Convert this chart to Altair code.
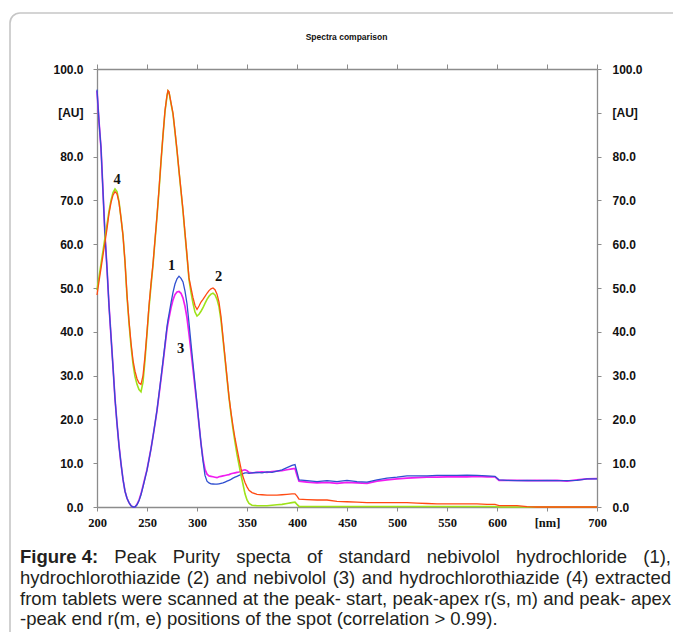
import altair as alt
import pandas as pd

# ---------------- data ----------------
wavelength = [200, 202, 204, 206, 208, 210, 212, 214, 216, 218, 220, 222, 224, 226, 228, 230,
              232, 234, 236, 238, 240, 242, 244, 246, 248, 250, 252, 254, 256, 258, 260, 262,
              264, 266, 268, 270, 271, 272, 274, 276, 278, 280, 282, 284, 286, 288, 290, 292,
              294, 296, 298, 300, 302, 304, 306, 308, 310, 312, 314, 316, 318, 320, 322, 324,
              326, 328, 330, 332, 334, 336, 338, 340, 342, 344, 346, 348, 350, 352, 355, 360,
              365, 370, 375, 380, 385, 390, 395, 398, 400, 402, 410, 420, 430, 440, 450, 460,
              470, 480, 490, 500, 510, 520, 530, 540, 550, 560, 570, 580, 590, 598, 602, 610,
              620, 630, 640, 650, 660, 670, 680, 690, 700]

# (1) standard nebivolol hydrochloride - blue
neb_std = [95.3, 88.0, 82.0, 72.0, 62.0, 54.5, 46.0, 39.0, 32.0, 24.7, 19.1, 14.0, 9.9, 6.3, 3.6, 2.0,
           1.0, 0.3, 0.0, 0.0, 0.5, 1.4, 2.8, 4.6, 6.5, 8.4, 10.8, 13.3, 16.1, 19.1, 22.1, 25.8,
           29.5, 33.3, 37.2, 41.2, 42.7, 44.0, 46.6, 49.0, 50.9, 52.1, 52.7, 52.2, 51.4, 49.3, 46.4, 42.0,
           37.3, 32.7, 28.2, 23.7, 19.0, 14.5, 10.5, 7.2, 5.9, 5.5, 5.3, 5.25, 5.2, 5.2, 5.3, 5.4,
           5.5, 5.7, 5.9, 6.1, 6.3, 6.6, 6.8, 7.0, 7.2, 7.4, 7.6, 7.8, 7.8, 7.7, 7.8, 7.9,
           7.8, 8.0, 7.9, 8.2, 8.5, 9.0, 9.5, 9.7, 8.0, 6.2, 6.0, 5.8, 6.0, 5.8, 6.1, 5.8,
           5.7, 6.2, 6.6, 6.8, 7.1, 7.1, 7.1, 7.2, 7.2, 7.2, 7.3, 7.2, 7.1, 7.0, 6.2, 6.1,
           6.0, 6.1, 6.0, 6.1, 6.0, 6.0, 6.1, 6.4, 6.4]

# (3) nebivolol from tablets - magenta
neb_tab = [95.0, 88.0, 82.0, 72.0, 62.0, 54.5, 46.0, 39.0, 32.0, 24.7, 19.1, 14.0, 9.9, 6.3, 3.6, 2.0,
           1.0, 0.3, 0.0, 0.0, 0.6, 1.6, 3.0, 4.8, 6.7, 8.5, 10.9, 13.3, 16.1, 19.0, 22.0, 25.6,
           29.2, 32.9, 36.8, 40.6, 42.0, 43.2, 45.5, 47.3, 48.5, 49.1, 49.2, 48.8, 47.7, 45.8, 43.2, 39.5,
           35.5, 31.5, 27.3, 23.2, 18.8, 14.5, 11.0, 8.6, 7.5, 7.1, 7.0, 6.9, 6.8, 6.7, 6.9, 7.0,
           7.1, 7.2, 7.3, 7.4, 7.6, 7.7, 7.8, 7.9, 8.0, 8.2, 8.4, 8.5, 8.3, 7.9, 7.8, 7.9,
           8.0, 7.9, 8.1, 8.2, 8.3, 8.5, 8.7, 8.8, 7.2, 5.9, 5.7, 5.5, 5.6, 5.4, 5.6, 5.5,
           5.4, 5.9, 6.2, 6.4, 6.6, 6.7, 6.8, 6.8, 6.9, 6.9, 6.9, 7.0, 6.9, 6.9, 6.1, 6.1,
           6.1, 6.0, 6.1, 6.0, 6.1, 5.9, 6.2, 6.4, 6.5]

# (2) standard hydrochlorothiazide - orange
hctz_std = [48.4, 51.5, 54.5, 57.5, 60.5, 63.5, 67.0, 69.5, 71.2, 72.0, 71.5, 69.5, 66.0, 62.0, 56.0, 48.5,
            42.5, 37.5, 33.5, 31.0, 29.3, 28.3, 28.0, 30.0, 34.5, 40.0, 46.0, 51.0, 55.5, 61.0, 66.5, 72.5,
            79.0, 85.0, 90.5, 94.0, 95.1, 94.8, 92.3, 89.9, 85.8, 81.5, 76.8, 72.3, 67.8, 62.6, 57.5, 52.3,
            50.0, 47.8, 46.0, 45.1, 45.9, 46.8, 47.4, 48.1, 48.8, 49.4, 49.8, 50.0, 49.6, 48.6, 46.8, 43.5,
            38.8, 34.3, 29.7, 25.2, 21.6, 18.5, 15.7, 13.3, 11.0, 8.8, 6.9, 5.6, 4.6, 3.8, 3.3, 2.9,
            2.8, 2.7, 2.7, 2.7, 2.8, 2.9, 3.0, 3.0, 2.5, 1.8, 1.7, 1.6, 1.6, 1.3, 1.2, 1.1,
            1.0, 1.0, 1.0, 1.0, 1.0, 0.9, 0.8, 0.7, 0.7, 0.7, 0.7, 0.7, 0.6, 0.6, 0.3, 0.3,
            0.3, 0.1, 0.0, 0.0, 0.0, 0.0, 0.0, 0.0, 0.0]

# (4) hydrochlorothiazide from tablets - yellow-green
hctz_tab = [49.5, 52.5, 55.5, 58.5, 61.5, 64.5, 67.5, 70.0, 71.8, 72.6, 72.0, 69.8, 66.0, 62.0, 56.0, 48.0,
            42.0, 36.8, 32.7, 29.8, 28.0, 26.8, 26.3, 28.5, 33.5, 39.5, 45.5, 50.5, 55.2, 60.8, 66.3, 72.3,
            78.8, 84.8, 90.3, 93.8, 95.0, 94.7, 92.1, 89.7, 85.6, 81.3, 76.6, 72.1, 67.5, 62.3, 57.2, 51.9,
            49.0, 46.5, 44.5, 43.6, 44.0, 44.7, 45.5, 46.5, 47.4, 48.1, 48.6, 48.8, 48.4, 47.4, 45.7, 42.6,
            38.3, 33.8, 29.3, 24.9, 21.2, 17.8, 14.8, 12.0, 9.6, 7.3, 5.2, 3.0, 1.6, 0.8, 0.4, 0.3,
            0.3, 0.3, 0.4, 0.5, 0.6, 0.8, 1.0, 1.1, 0.6, 0.15, 0.1, 0.1, 0.1, 0.1, 0.1, 0.1,
            0.1, 0.1, 0.1, 0.1, 0.1, 0.1, 0.1, 0.1, 0.1, 0.1, 0.1, 0.1, 0.1, 0.1, 0.0, 0.0,
            0.0, 0.0, 0.0, 0.0, 0.0, 0.0, 0.0, 0.0, 0.0]

peak_labels = ["1", "2", "3", "4"]
peak_label_nm = [274.5, 321.5, 283.5, 220.0]
peak_label_au = [55.0, 52.4, 36.0, 74.7]

x_ticks = [200, 250, 300, 350, 400, 450, 500, 550, 600, 650, 700]
y_ticks = [0, 10, 20, 30, 40, 50, 60, 70, 80, 90, 100]

title_text = "Spectra comparison"
caption_lines = [
    ["Figure 4:", "Peak", "Purity", "specta", "of", "standard", "nebivolol", "hydrochloride", "(1),"],
    ["hydrochlorothiazide", "(2)", "and", "nebivolol", "(3)", "and", "hydrochlorothiazide", "(4)", "extracted"],
    ["from", "tablets", "were", "scanned", "at", "the", "peak-", "start,", "peak-apex", "r(s,", "m)", "and",
     "peak-", "apex"],
    ["-peak end r(m, e) positions of the spot (correlation > 0.99)."],
]

# ---------------- layout (page pixels) ----------------
PLOT_LEFT, PLOT_TOP = 97, 69
W, H = 500, 438
CAP_FONT = 18.5
CAP_X0, CAP_X1 = 20, 671
caption_line_y = [556.7, 578, 599, 619]

# Arial / Liberation Sans advance widths (1/1000 em) for justifying the caption
_REG = {" ": 278, "(": 333, ")": 333, ",": 278, "-": 333, ".": 278, ":": 278, ">": 584,
        "a": 556, "b": 556, "c": 500, "d": 556, "e": 556, "f": 278, "g": 556, "h": 556,
        "i": 222, "j": 222, "k": 500, "l": 222, "m": 833, "n": 556, "o": 556, "p": 556,
        "q": 556, "r": 333, "s": 500, "t": 278, "u": 556, "v": 500, "w": 722, "x": 500,
        "y": 500, "z": 500, "F": 611, "P": 667}
_BOLD = {" ": 278, ":": 333, "F": 611, "i": 278, "g": 611, "u": 611, "r": 389, "e": 556}


def text_width(s, bold=False):
    table = _BOLD if bold else _REG
    return sum(table.get(ch, 556) for ch in s) / 1000.0 * CAP_FONT


df = pd.DataFrame({"wl": wavelength, "B": neb_std, "M": neb_tab, "O": hctz_std, "G": hctz_tab})
lab = pd.DataFrame({"t": peak_labels, "nm": peak_label_nm, "au": peak_label_au})

xs = alt.Scale(domain=[200, 700], nice=False, zero=False)
ys = alt.Scale(domain=[0, 100], nice=False)
GRAY = "#8c8c8c"
ylab_expr = "datum.value == 90 ? '[AU]' : format(datum.value, '.1f')"

ax_left = alt.Axis(orient="left", values=y_ticks, labelExpr=ylab_expr, labelFont="Liberation Sans",
                   labelFontWeight="bold", labelFontSize=12, labelColor="#111111", tickSize=4,
                   labelPadding=10, domainColor=GRAY, tickColor=GRAY, domainWidth=1.3, grid=False,
                   labelFlush=False, labelOverlap=False)
ax_right = alt.Axis(orient="right", values=y_ticks, labelExpr=ylab_expr, labelFont="Liberation Sans",
                    labelFontWeight="bold", labelFontSize=12, labelColor="#111111", tickSize=4,
                    labelPadding=11, domainColor=GRAY, tickColor=GRAY, domainWidth=1.3, grid=False,
                    labelFlush=False, labelOverlap=False)
ax_bottom = alt.Axis(orient="bottom", values=x_ticks,
                     labelExpr="datum.value == 650 ? '[nm]' : '' + datum.value",
                     labelFont="Liberation Serif", labelFontWeight="bold", labelFontSize=12.5,
                     labelColor="#111111", tickSize=4, labelPadding=5, domainColor=GRAY,
                     tickColor=GRAY, domainWidth=1.3, grid=False, labelFlush=False, labelOverlap=False)
ax_top = alt.Axis(orient="top", values=x_ticks, labels=False, tickSize=5, domainColor=GRAY,
                  tickColor=GRAY, domainWidth=1.3, grid=False)

base = alt.Chart(df)


def spectrum(field, color, with_axes=False, width=1.4):
    return base.mark_line(color=color, strokeWidth=width).encode(
        x=alt.X("wl:Q", scale=xs, axis=ax_bottom if with_axes else None, title=None),
        y=alt.Y(f"{field}:Q", scale=ys, axis=ax_left if with_axes else None, title=None),
    )


frame = base.mark_line(opacity=0).encode(
    x=alt.X("wl:Q", scale=xs, axis=ax_top, title=None),
    y=alt.Y("B:Q", scale=ys, axis=ax_right, title=None),
)

one = alt.Data(values=[{"k": 0}])
border = alt.Chart(one).mark_rect(fill="transparent", stroke="#c6c6c6", strokeWidth=1.6,
                                  cornerRadius=10).encode(
    x=alt.value(10 - PLOT_LEFT), x2=alt.value(760), y=alt.value(13 - PLOT_TOP), y2=alt.value(760))

labels = alt.Chart(lab).mark_text(font="Liberation Serif", fontWeight="bold", fontSize=14.5,
                                  color="#111111").encode(
    x=alt.X("nm:Q", scale=xs, axis=None), y=alt.Y("au:Q", scale=ys, axis=None), text="t:N")

title = alt.Chart(one).mark_text(font="Liberation Sans", fontWeight="bold", fontSize=8.5,
                                 color="#111111").encode(
    x=alt.value(346.5 - PLOT_LEFT), y=alt.value(37 - PLOT_TOP), text=alt.value(title_text))

texts = []
for li, words in enumerate(caption_lines):
    bolds = [(li == 0 and wi == 0) for wi in range(len(words))]
    widths = [text_width(w, b) for w, b in zip(words, bolds)]
    if li < 3 and len(words) > 1:
        gap = (CAP_X1 - CAP_X0 - sum(widths)) / (len(words) - 1)
    else:
        gap = 0
    x = CAP_X0
    for w, b, wd in zip(words, bolds, widths):
        texts.append(
            alt.Chart(one).mark_text(font="Liberation Sans", fontSize=CAP_FONT,
                                     fontWeight="bold" if b else "normal", color="#231f20",
                                     align="left", baseline="middle").encode(
                x=alt.value(x - PLOT_LEFT),
                y=alt.value(caption_line_y[li] - PLOT_TOP),
                text=alt.value(w)))
        x += wd + gap

chart = alt.layer(
    border,
    spectrum("M", "#f01cf0", with_axes=True, width=1.7),
    spectrum("B", "#2f4fd0", width=1.3),
    spectrum("G", "#9ee21a", width=1.6),
    spectrum("O", "#ff4a12", width=1.3),
    frame,
    labels,
    title,
    *texts,
).resolve_axis(x="independent", y="independent").properties(
    width=W, height=H,
    autosize=alt.AutoSizeParams(type="none"),
    padding={"left": PLOT_LEFT - 8, "top": PLOT_TOP - 8, "right": 665 - (PLOT_LEFT - 8) - W,
             "bottom": 624 - (PLOT_TOP - 8) - H},
).configure_view(stroke=None)

chart.save("out.html", embed_options={"renderer": "svg", "actions": False})
